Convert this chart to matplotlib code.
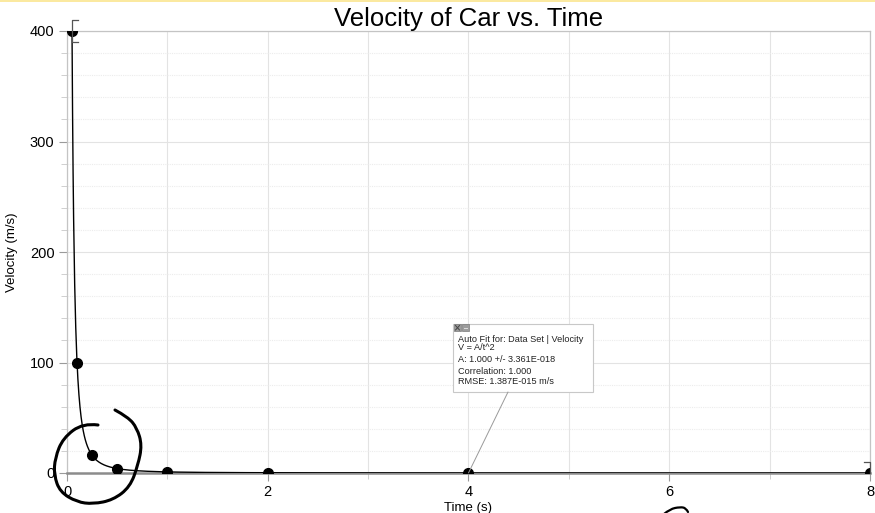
import numpy as np
import matplotlib
matplotlib.use('Agg')
import matplotlib.pyplot as plt
from matplotlib.path import Path
from matplotlib.patches import PathPatch, Rectangle, ConnectionPatch
from matplotlib.lines import Line2D

plt.rcParams['font.family'] = ['Liberation Sans', 'DejaVu Sans']

# data (time in s, velocity in m/s)
time_s = [0.05, 0.1, 0.25, 0.5, 1, 2, 4, 8]
velocity = [400, 100, 16, 4, 1, 0.25, 0.0625, 0.015625]

# fit V = A/t^2
fit_A = 1.0
fit_lines = ["Auto Fit for: Data Set | Velocity", "V = A/t^2",
             "A: 1.000 +/- 3.361E-018", "Correlation: 1.000",
             "RMSE: 1.387E-015 m/s"]

x_ticks = [0, 2, 4, 6, 8]
y_ticks = [0, 100, 200, 300, 400]

W, H = 875, 513
fig = plt.figure(figsize=(W / 100, H / 100), dpi=100)
ax = fig.add_axes([67 / W, 1 - 473 / H, 803 / W, 442 / H])


def px(x, y):
    # pixel (from top-left) -> figure fraction
    return x / W, 1 - y / H


# grid
ax.set_xlim(0, 8)
ax.set_ylim(0, 400)
ax.set_xticks(x_ticks)
ax.set_xticks([1, 3, 5, 7], minor=True)
ax.set_yticks(y_ticks)
ax.set_yticks([v for v in range(0, 401, 20) if v % 100], minor=True)
ax.grid(True, which='major', color='#e3e3e3', lw=0.8)
ax.grid(True, which='minor', axis='y', color='#ececec', lw=0.8, ls=(0, (1, 1)))
ax.grid(True, which='minor', axis='x', color='#e3e3e3', lw=0.8)
ax.set_axisbelow(True)

ax.tick_params(which='major', length=6, color='#9a9a9a', labelsize=10.5, pad=3)
ax.tick_params(which='minor', length=4, color='#c8c8c8')
for s in ['top', 'right', 'left']:
    ax.spines[s].set_color('#c4c4c4')
    ax.spines[s].set_linewidth(0.9)
ax.spines['bottom'].set_color('#8c8c8c')
ax.spines['bottom'].set_linewidth(1.8)

# fit curve
t_fit = np.linspace(time_s[0], time_s[-1], 1500)
ax.plot(t_fit, fit_A / t_fit ** 2, color='black', lw=1.0, zorder=3)

# data points
ax.plot(time_s, velocity, 'o', color='black', ms=7, zorder=4, clip_on=True)

# fit range brackets at first and last point
for xv, yv, side in [(time_s[0], velocity[0], 1), (time_s[-1], velocity[-1], -1)]:
    xp, yp = ax.transData.transform((xv, yv))
    h = 11
    pts = [(xp + side * 6, yp + h), (xp, yp + h), (xp, yp - h), (xp + side * 6, yp - h)]
    if side == -1:
        pts = [(xp - 6, yp + h), (xp, yp + h), (xp, yp)]
    fig.add_artist(Line2D([p[0] for p in pts], [p[1] for p in pts], transform=None,
                          color='#555555', lw=0.9))

ax.set_title('Velocity of Car vs. Time', fontsize=18.5, pad=3)
ax.set_xlabel('Time (s)', fontsize=9.5, labelpad=2)
ax.set_ylabel('Velocity (m/s)', fontsize=9.5)
ax.yaxis.set_label_coords(-0.061, 0.5)

# fit info box
bx0, by0, bx1, by1 = 453, 324, 593, 392
fx0, fy1 = px(bx0, by1)
fx1, fy0 = px(bx1, by0)
fig.add_artist(Rectangle((fx0, fy1), fx1 - fx0, fy0 - fy1, transform=fig.transFigure,
                         facecolor='white', edgecolor='#c8c8c8', lw=0.8, zorder=5))
# window icons
for ix in [454, 462]:
    ix0, iy0 = px(ix, 331)
    fig.add_artist(Rectangle((ix0, iy0), 7 / W, 7 / H, transform=fig.transFigure,
                             facecolor='#9c9c9c', edgecolor='#7a7a7a', lw=0.5, zorder=6))
x0, y0 = px(455.5, 330)
x1, y1 = px(459.5, 325.5)
fig.add_artist(Line2D([x0, x1], [y0, y1], transform=fig.transFigure, color='#444444', lw=0.7, zorder=7))
fig.add_artist(Line2D([x0, x1], [y1, y0], transform=fig.transFigure, color='#444444', lw=0.7, zorder=7))
m0, my = px(463.5, 327.5)
m1, _ = px(467.5, 327.5)
fig.add_artist(Line2D([m0, m1], [my, my], transform=fig.transFigure, color='#dddddd', lw=0.7, zorder=7))

line_y = [340, 348, 360, 372, 382]
for txt, ly in zip(fit_lines, line_y):
    tx, ty = px(458, ly)
    fig.text(tx, ty, txt, fontsize=6.6, va='center', ha='left', color='#222222', zorder=7)

lx, ly = px(508, by1)
fig.add_artist(ConnectionPatch(xyA=(lx, ly), coordsA=fig.transFigure,
                               xyB=(time_s[6], velocity[6]), coordsB=ax.transData,
                               color='#9a9a9a', lw=0.7, zorder=5))

# hand-drawn ink


def ink(points, lw=2.2):
    pts = [px(x, y) for x, y in points]
    verts = [pts[0]]
    codes = [Path.MOVETO]
    for i in range(1, len(pts) - 1):
        mid = ((pts[i][0] + pts[i + 1][0]) / 2, (pts[i][1] + pts[i + 1][1]) / 2)
        if i == len(pts) - 2:
            mid = pts[-1]
        verts += [pts[i], mid]
        codes += [Path.CURVE3, Path.CURVE3]
    fig.add_artist(PathPatch(Path(verts, codes), transform=fig.transFigure,
                             fill=False, edgecolor='black', lw=lw, capstyle='round', zorder=8))


ink([(98, 425), (83, 423), (63, 438), (55, 458), (54, 475), (60, 492), (77, 502),
     (93, 504), (113, 500), (130, 487), (138, 465), (142, 445), (137, 428),
     (128, 417), (115, 410)])
ink([(664, 514), (670, 509), (680, 507), (686, 508), (688, 512)], lw=1.6)

# thin yellow strip at the top
fig.add_artist(Rectangle((0, 1 - 2 / H), 1, 2 / H, transform=fig.transFigure,
                         facecolor='#fbe9a0', edgecolor='none'))

plt.savefig('out.png', dpi=100)
plt.close()
